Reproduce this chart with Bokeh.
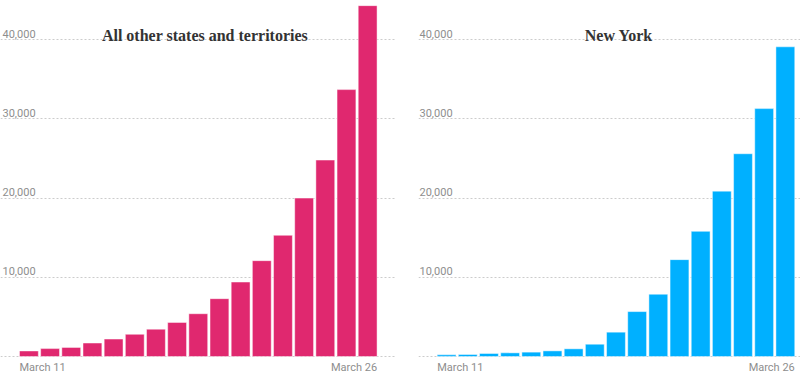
from bokeh.plotting import figure
from bokeh.layouts import row
from bokeh.models import Label, Grid, FixedTicker, Range1d
from bokeh.embed import file_html
from bokeh.resources import INLINE

# ---- data ----
others_values = [700, 1000, 1150, 1700, 2200, 2800, 3450, 4300, 5400, 7300,
                 9400, 12100, 15300, 20000, 24800, 33700, 44300]
ny_values = [210, 250, 380, 460, 550, 710, 970, 1550, 3070, 5670,
             7860, 12230, 15800, 20880, 25600, 31300, 39100]
first_label = "March 11"
last_label = "March 26"
y_ticks = [0, 10000, 20000, 30000, 40000]
y_tick_labels = ["", "10,000", "20,000", "30,000", "40,000"]
titles = ["All other states and territories", "New York"]
colors = ["#e0286f", "#00b0ff"]

PITCH = 21.17      # px per bar slot
BAR_W = 0.89
PX_PER_UNIT = 79.2 / 10000.0
H = 374
BASE_PX = 356      # baseline position from top
Y_END = BASE_PX / PX_PER_UNIT
Y_START = -(H - BASE_PX) / PX_PER_UNIT


def panel(values, title, color, width, border_left, border_right,
          lead_px, title_center_px, tick_dx):
    frame_w = width - border_left - border_right
    x_start = -BAR_W / 2 - lead_px / PITCH
    x_end = x_start + frame_w / PITCH
    p = figure(width=width, height=H, output_backend="svg",
               toolbar_location=None, x_axis_type=None, y_axis_type=None,
               x_range=Range1d(x_start, x_end), y_range=Range1d(Y_START, Y_END),
               min_border_left=border_left, min_border_right=border_right,
               min_border_top=0, min_border_bottom=0)
    p.outline_line_color = None
    p.background_fill_color = "white"
    p.border_fill_color = "white"
    g = Grid(dimension=1, ticker=FixedTicker(ticks=y_ticks),
             grid_line_color="#cccccc", grid_line_dash="2 2", grid_line_width=1)
    p.add_layout(g)
    xs = list(range(len(values)))
    p.vbar(x=xs, top=values, bottom=0, width=BAR_W, fill_color=color,
           line_color="white", line_alpha=0.45, line_width=1)
    # y tick labels inside plot
    for t, lab in zip(y_ticks, y_tick_labels):
        if lab:
            p.add_layout(Label(x=x_start, y=t, x_offset=tick_dx, y_offset=2,
                               text=lab, text_font="Roboto", text_font_size="11px",
                               text_color="#8e8e8e", text_baseline="bottom",
                               text_align="left"))
    # x labels
    p.add_layout(Label(x=xs[0] - BAR_W / 2, y=0, y_offset=-4, text=first_label,
                       text_font="Roboto", text_font_size="11px", text_color="#8e8e8e",
                       text_baseline="top", text_align="left"))
    p.add_layout(Label(x=xs[-1] + BAR_W / 2, y=0, y_offset=-4, text=last_label,
                       text_font="Roboto", text_font_size="11px", text_color="#8e8e8e",
                       text_baseline="top", text_align="right"))
    # title
    p.add_layout(Label(x=x_start, y=Y_END, x_offset=title_center_px, y_offset=-35,
                       text=title, text_font="Liberation Serif", text_font_style="bold",
                       text_font_size="16px", text_color="#333333",
                       text_baseline="alphabetic", text_align="center"))
    return p


left = panel(others_values, titles[0], colors[0], 400, 0, 5, 19, 204.5, 2)
right = panel(ny_values, titles[1], colors[1], 400, 18, 0, 18.7, 200.3, 1)

layout = row(left, right)
open("out.html", "w").write(file_html(layout, INLINE))
